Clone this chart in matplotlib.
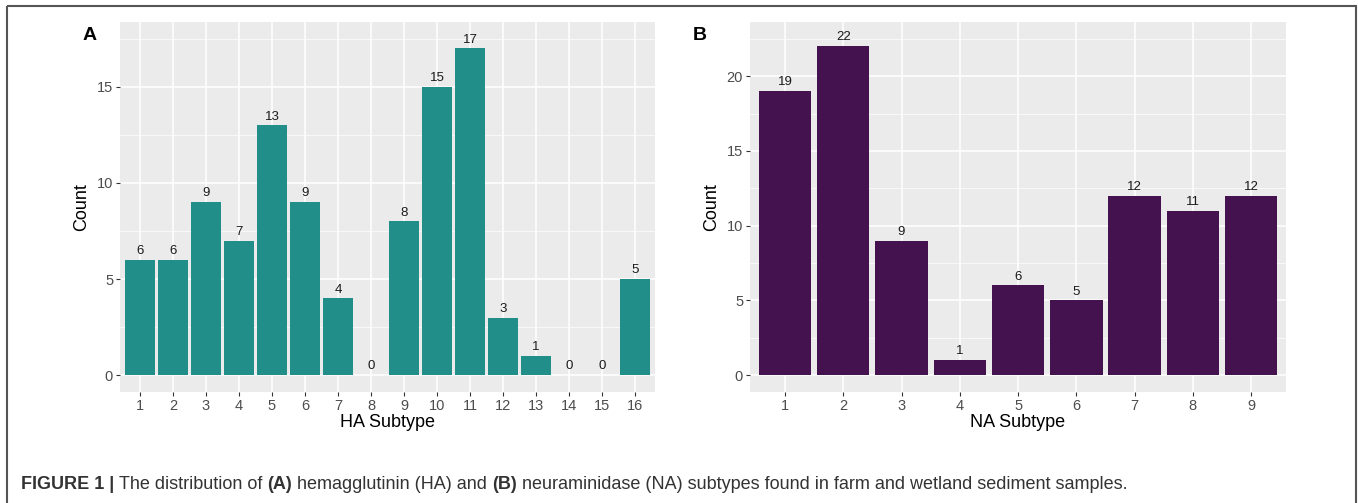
import matplotlib
matplotlib.use("Agg")
import matplotlib.pyplot as plt
from matplotlib.patches import Rectangle

# data
ha_subtypes = [str(i) for i in range(1, 17)]
ha_counts = [6, 6, 9, 7, 13, 9, 4, 0, 8, 15, 17, 3, 1, 0, 0, 5]
na_subtypes = [str(i) for i in range(1, 10)]
na_counts = [19, 22, 9, 1, 6, 5, 12, 11, 12]

ha_color = "#228E8A"
na_color = "#43124F"

plt.rcParams["font.family"] = ["Liberation Sans", "DejaVu Sans"]

fig = plt.figure(figsize=(13.58, 5.03), dpi=100)


def gg_panel(rect, cats, vals, color, xlabel, yticks, ymax):
    ax = fig.add_axes(rect)
    ax.set_facecolor("#EBEBEB")
    x = list(range(len(cats)))
    ax.bar(x, vals, width=0.9, color=color, zorder=3)
    for xi, v in zip(x, vals):
        ax.annotate(str(v), (xi, v), xytext=(0, 2), textcoords="offset points",
                    ha="center", va="bottom", fontsize=9.5, color="#1A1A1A", zorder=4)
    ax.set_xlim(-0.6, len(cats) - 0.4)
    top = ymax + 0.5
    ax.set_ylim(-0.05 * top, top * 1.05)
    ax.set_xticks(x)
    ax.set_xticklabels(cats)
    ax.set_yticks(yticks)
    ax.set_yticks([t + 2.5 for t in yticks if t + 2.5 < top * 1.05], minor=True)
    ax.grid(True, which="major", color="white", lw=1.1, zorder=0)
    ax.grid(True, which="minor", axis="y", color="white", lw=0.5, zorder=0)
    ax.tick_params(which="major", length=3, width=0.8, color="#333333",
                   labelcolor="#4D4D4D", labelsize=10.5, pad=2)
    ax.tick_params(which="minor", length=0)
    for s in ax.spines.values():
        s.set_visible(False)
    ax.set_axisbelow(True)
    ax.set_xlabel(xlabel, fontsize=13, labelpad=1)
    ax.set_ylabel("Count", fontsize=13, labelpad=5)
    return ax


axA = gg_panel([0.0884, 0.2207, 0.394, 0.7356], ha_subtypes, ha_counts, ha_color,
               "HA Subtype", [0, 5, 10, 15], max(ha_counts))
axB = gg_panel([0.5523, 0.2207, 0.3947, 0.7356], na_subtypes, na_counts, na_color,
               "NA Subtype", [0, 5, 10, 15, 20], max(na_counts))

fig.text(90 / 1358, 1 - 35 / 503, "A", fontsize=14, fontweight="bold", ha="center", va="center")
fig.text(700 / 1358, 1 - 35 / 503, "B", fontsize=14, fontweight="bold", ha="center", va="center")

# overlay for frame and caption
ov = fig.add_axes([0, 0, 1, 1])
ov.set_xlim(0, 1358)
ov.set_ylim(503, 0)
ov.axis("off")
ov.add_patch(Rectangle((7, 6), 1349, 520, fill=False, ec="#555555", lw=1.5))

pieces = [
    ("FIGURE 1 | ", "bold"),
    ("The distribution of ", "normal"),
    ("(A)", "bold"),
    (" hemagglutinin (HA) and ", "normal"),
    ("(B)", "bold"),
    (" neuraminidase (NA) subtypes found in farm and wetland sediment samples.", "normal"),
]
renderer = fig.canvas.get_renderer()
xpos = 21
for txt, w in pieces:
    t = ov.text(xpos, 489, txt, fontsize=13.0, fontweight=w, ha="left",
                va="baseline", color="#333333")
    bb = t.get_window_extent(renderer=renderer)
    xpos += bb.width

fig.savefig("out.png", dpi=100)
